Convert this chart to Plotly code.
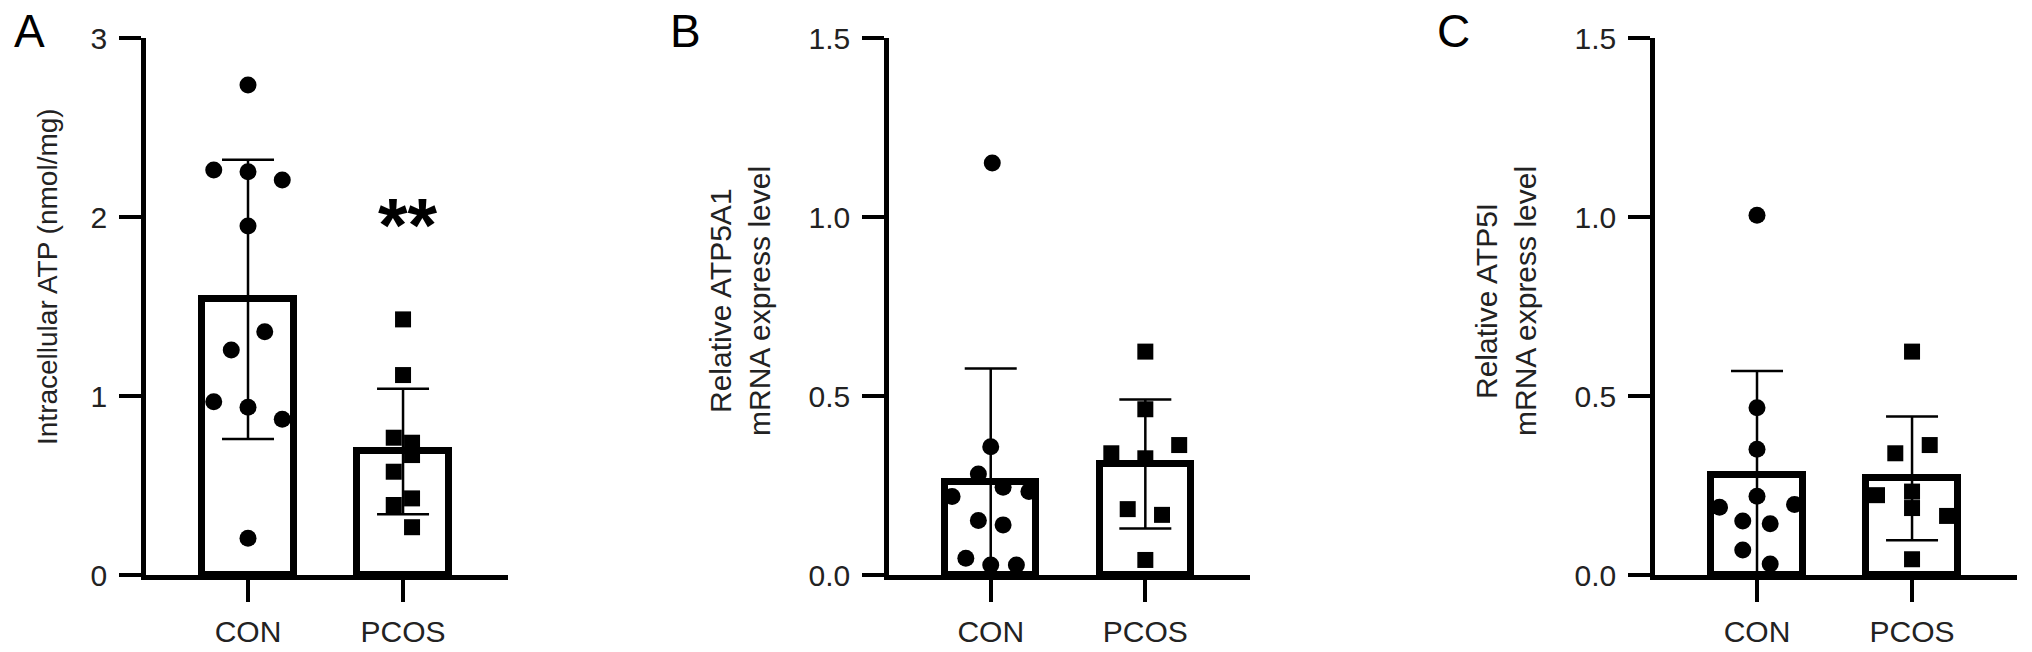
import plotly.graph_objects as go

categories = ["CON", "PCOS"]

# Panel A: Intracellular ATP (nmol/mg)
a_con_vals = [2.737, 2.263, 2.253, 2.207, 1.950, 1.359, 1.257, 0.968, 0.937, 0.870, 0.205]
a_con_off = [0.0, -0.221, 0.0, 0.221, 0.0, 0.108, -0.108, -0.221, 0.0, 0.221, 0.0]
a_pcos_vals = [1.428, 1.117, 0.767, 0.739, 0.670, 0.577, 0.428, 0.391, 0.267]
a_pcos_off = [0.0, 0.0, -0.06, 0.058, 0.058, -0.06, 0.058, -0.06, 0.058]
a_means = [1.54, 0.69]
a_sd = [0.78, 0.35]

# Panel B: Relative ATP5A1 mRNA
b_con_vals = [1.151, 0.358, 0.282, 0.245, 0.219, 0.233, 0.152, 0.140, 0.047, 0.028, 0.028]
b_con_off = [0.01, 0.0, -0.08, 0.08, -0.25, 0.247, -0.08, 0.08, -0.161, 0.0, 0.166]
b_pcos_vals = [0.624, 0.463, 0.363, 0.340, 0.326, 0.184, 0.168, 0.042]
b_pcos_off = [0.0, 0.0, 0.219, -0.22, 0.0, -0.114, 0.108, 0.0]
b_means = [0.26, 0.31]
b_sd = [0.317, 0.18]

# Panel C: Relative ATP5I mRNA
c_con_vals = [1.005, 0.467, 0.351, 0.220, 0.189, 0.197, 0.151, 0.143, 0.070, 0.031]
c_con_off = [0.0, 0.0, 0.0, 0.0, -0.242, 0.242, -0.092, 0.085, -0.092, 0.085]
c_pcos_vals = [0.624, 0.363, 0.340, 0.223, 0.233, 0.187, 0.165, 0.044]
c_pcos_off = [0.0, 0.114, -0.108, -0.226, 0.0, 0.0, 0.226, 0.0]
c_means = [0.28, 0.27]
c_sd = [0.29, 0.173]

FONT = "Liberation Sans, Arial, Helvetica, sans-serif"
W, H = 2032, 652

fig = go.Figure()

panels = [
    (a_con_vals, a_con_off, a_pcos_vals, a_pcos_off, a_means, a_sd, "x", "y"),
    (b_con_vals, b_con_off, b_pcos_vals, b_pcos_off, b_means, b_sd, "x2", "y2"),
    (c_con_vals, c_con_off, c_pcos_vals, c_pcos_off, c_means, c_sd, "x3", "y3"),
]

for con_v, con_o, pc_v, pc_o, means, sd, xa, ya in panels:
    fig.add_trace(go.Bar(
        x=[0, 1], y=means, width=0.59, xaxis=xa, yaxis=ya,
        marker=dict(color="white", line=dict(color="black", width=7)),
        showlegend=False, hoverinfo="skip"))
    minus = [min(s, m) for s, m in zip(sd, means)]
    fig.add_trace(go.Scatter(
        x=[0, 1], y=means, mode="markers", xaxis=xa, yaxis=ya,
        marker=dict(size=1, color="rgba(0,0,0,0)"),
        error_y=dict(type="data", array=sd, arrayminus=minus, symmetric=False,
                     color="black", thickness=2.5, width=26),
        showlegend=False, hoverinfo="skip"))
    fig.add_trace(go.Scatter(
        x=[0 + o for o in con_o], y=con_v, mode="markers", xaxis=xa, yaxis=ya,
        marker=dict(symbol="circle", size=17, color="black"),
        showlegend=False, cliponaxis=False))
    fig.add_trace(go.Scatter(
        x=[1 + o for o in pc_o], y=pc_v, mode="markers", xaxis=xa, yaxis=ya,
        marker=dict(symbol="square", size=16, color="black"),
        showlegend=False, cliponaxis=False))

xdomains = [[146 / W, 508 / W], [889 / W, 1250 / W], [1655 / W, 2017 / W]]
ydomain = [1 - 575 / H, 1 - 38 / H]
yranges = [[0, 3], [0, 1.5], [0, 1.5]]
ytickvals = [[0, 1, 2, 3], [0, 0.5, 1.0, 1.5], [0, 0.5, 1.0, 1.5]]
yticktext = [["0", "1", "2", "3"], ["0.0", "0.5", "1.0", "1.5"], ["0.0", "0.5", "1.0", "1.5"]]

axis_common = dict(showline=True, linecolor="black", linewidth=4.5, ticks="outside",
                   ticklen=22, tickwidth=4, tickcolor="black", showgrid=False,
                   zeroline=False, automargin=False,
                   tickfont=dict(family=FONT, size=30, color="#222"))

layout = dict(width=W, height=H, margin=dict(l=0, r=0, t=0, b=0, pad=0, autoexpand=False),
              paper_bgcolor="white", plot_bgcolor="white", bargap=0,
              template="none",
              font=dict(family=FONT, color="black"))
for i in range(3):
    xs = "xaxis" if i == 0 else f"xaxis{i+1}"
    ys = "yaxis" if i == 0 else f"yaxis{i+1}"
    anchor_y = "y" if i == 0 else f"y{i+1}"
    anchor_x = "x" if i == 0 else f"x{i+1}"
    layout[xs] = dict(domain=xdomains[i], anchor=anchor_y, range=[-0.658, 1.677],
                      tickvals=[0, 1], ticktext=categories, ticklabelstandoff=4, **axis_common)
    layout[ys] = dict(domain=ydomain, anchor=anchor_x, range=yranges[i],
                      tickvals=ytickvals[i], ticktext=yticktext[i], ticklabelstandoff=6,
                      **axis_common)
fig.update_layout(**layout)

ann = []
for letter, cx in [("A", 29), ("B", 685), ("C", 1453)]:
    ann.append(dict(text=letter, x=cx / W, y=1 - 31 / H, xref="paper", yref="paper",
                    showarrow=False, xanchor="center", yanchor="middle",
                    font=dict(family=FONT, size=46, color="black")))
ann.append(dict(text="Intracellular ATP (nmol/mg)", x=47 / W, y=1 - 277 / H,
                xref="paper", yref="paper", showarrow=False, textangle=-90,
                xanchor="center", yanchor="middle",
                font=dict(family=FONT, size=28, color="#222")))
title_lines = [
    ("Relative ATP5A1", 889 - 169), ("mRNA express level", 889 - 130),
    ("Relative ATP5I", 1655 - 169), ("mRNA express level", 1655 - 130),
]
for txt, cx in title_lines:
    ann.append(dict(text=txt, x=cx / W, y=1 - 301 / H,
                    xref="paper", yref="paper", showarrow=False, textangle=-90,
                    xanchor="center", yanchor="middle",
                    font=dict(family=FONT, size=30, color="#222")))
ann.append(dict(text="<b>**</b>", x=1.03, y=1.958, xref="x", yref="y", showarrow=False,
                xanchor="center", yanchor="middle",
                font=dict(family=FONT, size=76, color="black")))
fig.update_layout(annotations=ann)

fig.write_html("out.html", config={"displayModeBar": False},
               post_script="document.body.style.margin='0';document.body.style.overflow='hidden';")
